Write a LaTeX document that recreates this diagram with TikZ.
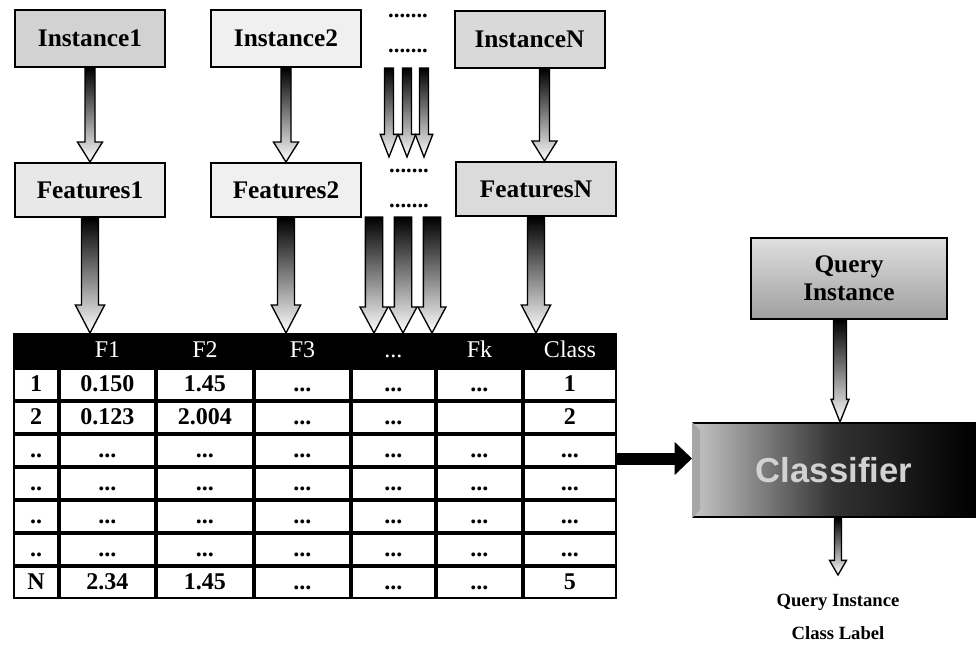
\documentclass[tikz,border=0pt]{standalone}
\usepackage{fontspec}
\setmainfont{Liberation Serif}
\newfontfamily\clsfont{Liberation Sans}
\usetikzlibrary{positioning,calc,matrix,arrows.meta}

\tikzset{
    box/.style={rectangle, draw=black, line width=1.5pt, fill=gray!20, minimum width=112.5pt, minimum height=42.75pt, inner sep=2pt, font=\fontsize{19}{21}\selectfont\bfseries},
    flow/.style={draw=black, line width=1pt, top color=black, middle color=gray!55, bottom color=white},
    bigflow/.style={draw=black, line width=9pt, -{Triangle[length=13pt,width=24pt]}},
    dotrow/.style={inner sep=0pt, font=\fontsize{17}{17}\selectfont\bfseries},
    datatable/.style={matrix of nodes, nodes in empty cells, column sep=0pt, row sep=0pt, inner sep=0pt, outer sep=0pt,
        nodes={draw=black, line width=1.5pt, fill=white, inner sep=0pt, minimum height=23.25pt, text height=12pt, text depth=2pt, font=\fontsize{18}{20}\selectfont\bfseries},
        row 1/.style={nodes={fill=black, text=white, minimum height=24.75pt, font=\fontsize{18}{20}\selectfont}},
        column 1/.style={nodes={minimum width=33pt}},
        column 2/.style={nodes={minimum width=71.25pt}},
        column 3/.style={nodes={minimum width=72pt}},
        column 4/.style={nodes={minimum width=71.25pt}},
        column 5/.style={nodes={minimum width=62.25pt}},
        column 6/.style={nodes={minimum width=63.75pt}},
        column 7/.style={nodes={minimum width=69pt}}}
}

% hollow block arrow: from, to, half shaft, half head, head length
\newcommand{\blockarrow}[5]{%
    \shade[flow] let \p1=(#1), \p2=(#2) in
        (\x1-#3,\y1) -- (\x1+#3,\y1) -- (\x1+#3,\y2+#5) -- (\x1+#4,\y2+#5)
        -- (\x1,\y2) -- (\x1-#4,\y2+#5) -- (\x1-#3,\y2+#5) -- cycle;}

\begin{document}
\begin{tikzpicture}[x=0.75pt, y=-0.75pt]
\useasboundingbox (0,0) rectangle (976,650);

% instances and their features
\node[box, fill=gray!35] (i1) at (90,38.5) {Instance1};
\node[box, fill=gray!12] (i2) at (286,38.5) {Instance2};
\node[box, fill=gray!30] (iN) at (529.5,39.5) {InstanceN};
\node[box, fill=gray!18, minimum height=40.5pt] (f1) at (90,190) {Features1};
\node[box, fill=gray!12, minimum height=40.5pt] (f2) at (286,190) {Features2};
\node[box, fill=gray!28, minimum height=40.5pt, minimum width=120pt] (fN) at (536,189) {FeaturesN};

\node[dotrow] (d1) at (408,16) {.......};
\node[dotrow] (d2) at (408,51) {.......};
\node[dotrow] (d3) at (409,171) {.......};
\node[dotrow] (d4) at (409,206) {.......};

% training table
\matrix (tab) [datatable, anchor=north west] at (13,333) {
      & F1    & F2    & F3  & ... & Fk  & Class \\
    1 & 0.150 & 1.45  & ... & ... & ... & 1 \\
    2 & 0.123 & 2.004 & ... & ... &     & 2 \\
   .. & ...   & ...   & ... & ... & ... & ... \\
   .. & ...   & ...   & ... & ... & ... & ... \\
   .. & ...   & ...   & ... & ... & ... & ... \\
   .. & ...   & ...   & ... & ... & ... & ... \\
    N & 2.34  & 1.45  & ... & ... & ... & 5 \\
};

% classifier side
\node[box, top color=gray!25, bottom color=gray!75, minimum width=147pt, minimum height=60.75pt, align=center] (query) at (849,278.5) {Query\\Instance};
\node[box, left color=gray!45, right color=black, middle color=black!80, minimum width=211.5pt, minimum height=70.5pt, text=gray!35, font=\clsfont\fontsize{26}{28}\selectfont\bfseries] (cls) at (834,470) {Classifier};
\fill[gray!70] (cls.north west) -- ([shift={(8,8)}]cls.north west) -- ([shift={(8,-8)}]cls.south west) -- (cls.south west) -- cycle;
\node[anchor=north, align=center, inner xsep=0pt, inner ysep=14pt, font=\fontsize{14}{25}\selectfont\bfseries] (lbl) at (838,575) {Query Instance\\Class Label};

% arrows
\blockarrow{i1.south}{f1.north}{3.75pt}{9.4pt}{15pt}
\blockarrow{i2.south}{f2.north}{3.75pt}{9.4pt}{15pt}
\blockarrow{$(iN.south)+(15,0)$}{$(fN.north)+(9,0)$}{3.75pt}{9.4pt}{15pt}
\blockarrow{f1.south}{f1.south |- tab.north}{6.4pt}{11pt}{21pt}
\blockarrow{f2.south}{f2.south |- tab.north}{6.4pt}{11pt}{21pt}
\blockarrow{fN.south}{fN.south |- tab.north}{6.4pt}{11pt}{21pt}
\foreach \x [count=\k] in {389,407,424} {
    \coordinate (hi\k) at (\x,68);
    \coordinate (mid\k) at (\x,157);
    \blockarrow{hi\k}{mid\k}{3.4pt}{6.6pt}{17pt}
}
\foreach \x [count=\k] in {374,403,432} {
    \coordinate (lo\k) at (\x,217);
    \blockarrow{lo\k}{lo\k |- tab.north}{6.5pt}{10.5pt}{19.5pt}
}
\blockarrow{$(query.south)+(-9,0)$}{$(cls.north)+(6,0)$}{4.9pt}{6.75pt}{17pt}
\blockarrow{$(cls.south)+(4,0)$}{$(lbl.north)$}{2.6pt}{6.4pt}{11pt}
\draw[bigflow] ([yshift=-6pt]tab-4-7.east) -- ([yshift=-6pt]tab-4-7.east -| cls.west);

\end{tikzpicture}
\end{document}
